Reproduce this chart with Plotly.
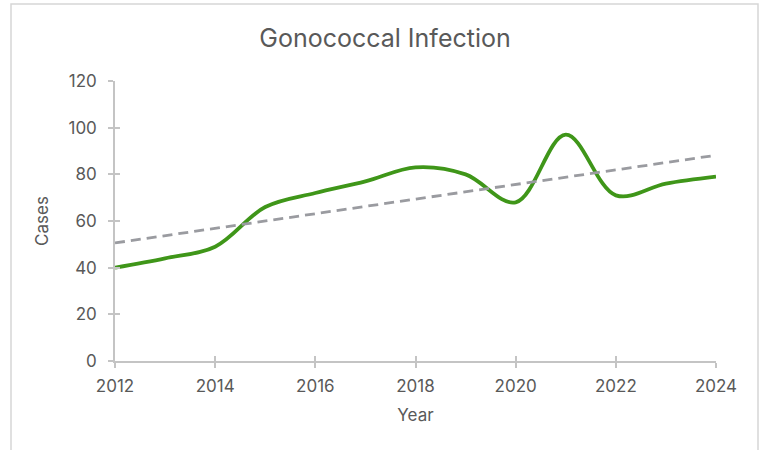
import numpy as np
import plotly.graph_objects as go

# Annual reported cases
years = [2012, 2013, 2014, 2015, 2016, 2017, 2018, 2019, 2020, 2021, 2022, 2023, 2024]
cases = [40, 44, 49, 66, 72, 77, 83, 80, 68, 97, 71, 76, 79]

x_ticks = [2012, 2014, 2016, 2018, 2020, 2022, 2024]
y_ticks = [0, 20, 40, 60, 80, 100, 120]

# Least-squares linear trend over the same years
slope, intercept = np.polyfit(years, cases, 1)
trend = [slope * y + intercept for y in years]

GREEN = "#3f9619"
TREND = "#9a9ba0"
AXIS = "#c4c4c4"
TEXT = "#595959"
FONT = "Inter, Open Sans, sans-serif"

fig = go.Figure()
fig.add_trace(go.Scatter(
    x=years, y=cases, mode="lines",
    line=dict(color=GREEN, width=3.8, shape="spline", smoothing=1.0),
    hoverinfo="x+y", showlegend=False,
))
fig.add_trace(go.Scatter(
    x=years, y=trend, mode="lines",
    line=dict(color=TREND, width=2.8, dash="10px,6px"),
    hoverinfo="skip", showlegend=False,
))

W, H = 766, 450
L, R, T, B = 115, 50, 81, 89
pw, ph = W - L - R, H - T - B

axis_common = dict(
    showgrid=False, zeroline=False, showline=True,
    linecolor=AXIS, linewidth=1.5,
    ticks="outside", ticklen=5, tickwidth=1.5, tickcolor=AXIS,
    tickfont=dict(family=FONT, size=17, color=TEXT),
)

fig.update_layout(
    width=W, height=H,
    margin=dict(l=L, r=R, t=T, b=B),
    paper_bgcolor="white", plot_bgcolor="white",
    font=dict(family=FONT, color=TEXT),
    title=dict(
        text="Gonococcal Infection",
        font=dict(family=FONT, size=25, color=TEXT),
        xref="container", x=385 / W, xanchor="center",
        yref="container", y=1 - 38 / H, yanchor="middle",
    ),
    xaxis=dict(
        range=[2012, 2024], tickvals=x_ticks, ticktext=[str(v) for v in x_ticks],
        title=dict(text="Year", font=dict(family=FONT, size=17, color=TEXT), standoff=14),
        ticklabelstandoff=4,
        **axis_common,
    ),
    yaxis=dict(
        range=[0, 120], tickvals=y_ticks, ticktext=[str(v) for v in y_ticks],
        title=dict(text="Cases", font=dict(family=FONT, size=17, color=TEXT), standoff=16),
        ticklabelstandoff=8,
        **axis_common,
    ),
    # inner half of the crossing tick marks
    xaxis2=dict(
        overlaying="x", matches="x", side="bottom", anchor="y",
        tickvals=x_ticks, showticklabels=False, showgrid=False, zeroline=False,
        showline=False, ticks="inside", ticklen=5, tickwidth=1.5, tickcolor=AXIS,
    ),
    yaxis2=dict(
        overlaying="y", matches="y", side="left", anchor="x",
        tickvals=y_ticks, showticklabels=False, showgrid=False, zeroline=False,
        showline=False, ticks="inside", ticklen=5, tickwidth=1.5, tickcolor=AXIS,
    ),
)

# Invisible trace so the overlay axes are rendered
fig.add_trace(go.Scatter(
    x=[years[0]], y=[cases[0]], xaxis="x2", yaxis="y2",
    mode="markers", marker=dict(opacity=0), hoverinfo="skip", showlegend=False,
))

# Chart-area frame
fig.add_shape(
    type="rect", xref="paper", yref="paper",
    x0=(11 - L) / pw, x1=(758 - L) / pw,
    y0=(H - B - 455) / ph, y1=(H - B - 4) / ph,
    line=dict(color="#d6d6d6", width=1.5), fillcolor="rgba(0,0,0,0)", layer="below",
)

fig.write_html("out.html")
